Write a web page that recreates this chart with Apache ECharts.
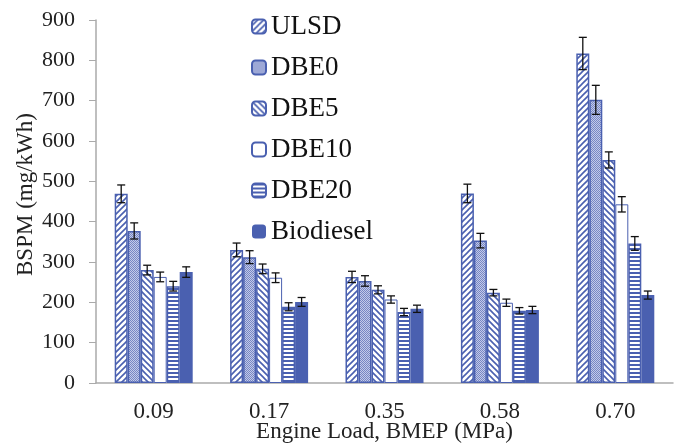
<!DOCTYPE html>
<html><head><meta charset="utf-8">
<script src="https://cdn.jsdelivr.net/npm/echarts@6/dist/echarts.min.js"></script>
<style>html,body{margin:0;padding:0;background:#fff}#c{width:678px;height:444px}</style>
</head><body><div id="c"></div>
<script>
const categories = ['0.09', '0.17', '0.35', '0.58', '0.70'];
const seriesNames = ['ULSD', 'DBE0', 'DBE5', 'DBE10', 'DBE20', 'Biodiesel'];
const ULSD      = [469, 330, 263, 470, 817];
const DBE0      = [377, 312, 253, 353, 702];
const DBE5      = [280, 283, 231, 224, 553];
const DBE10     = [263, 261, 207, 199, 443];
const DBE20     = [240, 189, 176, 179, 346];
const Biodiesel = [275, 201, 184, 181, 218];
const ULSD_err      = [22, 17, 14, 23, 40];
const DBE0_err      = [20, 16, 13, 18, 36];
const DBE5_err      = [12, 12, 10, 8, 20];
const DBE10_err     = [12, 12, 9, 9, 19];
const DBE20_err     = [12, 10, 9, 8, 17];
const Biodiesel_err = [13, 11, 9, 9, 10];
const yTicks = [0, 100, 200, 300, 400, 500, 600, 700, 800, 900];

const values = [ULSD, DBE0, DBE5, DBE10, DBE20, Biodiesel];
const errors = [ULSD_err, DBE0_err, DBE5_err, DBE10_err, DBE20_err, Biodiesel_err];

const BLUE = '#4a60b0';
const BW = 13;
const FONT = '"Liberation Serif", "Times New Roman", serif';

function makePattern(kind) {
  const c = document.createElement('canvas');
  const s = kind === 'dots' ? 2 : (kind === 'hline' ? 4 : 6);
  c.width = s; c.height = s;
  const g = c.getContext('2d');
  g.fillStyle = '#fff'; g.fillRect(0, 0, s, s);
  g.strokeStyle = BLUE; g.fillStyle = BLUE; g.lineWidth = 1.6;
  if (kind === 'fwd') {
    g.beginPath();
    g.moveTo(-1, s + 1); g.lineTo(s + 1, -1);
    g.moveTo(-1, 1); g.lineTo(1, -1);
    g.moveTo(s - 1, s + 1); g.lineTo(s + 1, s - 1);
    g.stroke();
  } else if (kind === 'back') {
    g.beginPath();
    g.moveTo(-1, -1); g.lineTo(s + 1, s + 1);
    g.moveTo(s - 1, -1); g.lineTo(s + 1, 1);
    g.moveTo(-1, s - 1); g.lineTo(1, s + 1);
    g.stroke();
  } else if (kind === 'hline') {
    g.fillRect(0, 0, s, 2);
  } else if (kind === 'dots') {
    g.fillStyle = '#c3cae9'; g.fillRect(0, 0, s, s);
    g.fillStyle = '#7787c4'; g.fillRect(0, 0, 1, 1); g.fillRect(1, 1, 1, 1);
  }
  return { image: c, repeat: 'repeat' };
}

const styles = [
  { color: makePattern('fwd'), borderColor: BLUE, borderWidth: 1.5 },
  { color: makePattern('dots'), borderColor: BLUE, borderWidth: 1.5 },
  { color: makePattern('back'), borderColor: BLUE, borderWidth: 1.5 },
  { color: '#ffffff', borderColor: BLUE, borderWidth: 1 },
  { color: makePattern('hline'), borderColor: BLUE, borderWidth: 1.5 },
  { color: BLUE, borderColor: BLUE, borderWidth: 0 }
];

const series = seriesNames.map((n, i) => ({
  name: n, type: 'bar', data: values[i], barWidth: BW, barGap: '0%',
  itemStyle: styles[i], emphasis: { disabled: true }
}));

const errData = [];
values.forEach((arr, s) => arr.forEach((v, c) => {
  errData.push([c, v + errors[s][c], v - errors[s][c], s]);
}));

series.push({
  type: 'custom', name: 'err', z: 5, silent: true,
  encode: { x: 0, y: [1, 2] },
  data: errData,
  renderItem: function (params, api) {
    const c = api.value(0), hi = api.value(1), lo = api.value(2), s = api.value(3);
    const pHi = api.coord([c, hi]), pLo = api.coord([c, lo]);
    const x = pHi[0] + (s - 2.5) * BW;
    const cap = 4;
    const st = { stroke: '#111', lineWidth: 1.3 };
    return { type: 'group', children: [
      { type: 'line', shape: { x1: x, y1: pHi[1], x2: x, y2: pLo[1] }, style: st },
      { type: 'line', shape: { x1: x - cap, y1: pHi[1], x2: x + cap, y2: pHi[1] }, style: st },
      { type: 'line', shape: { x1: x - cap, y1: pLo[1], x2: x + cap, y2: pLo[1] }, style: st }
    ]};
  }
});

const chart = echarts.init(document.getElementById('c'), null, { renderer: 'canvas' });
chart.setOption({
  animation: false,
  textStyle: { fontFamily: FONT },
  grid: { left: 96, right: 5, top: 20, bottom: 61, containLabel: false, outerBoundsMode: 'none' },
  legend: {
    data: seriesNames, orient: 'vertical', left: 246, top: 8,
    itemWidth: 14, itemHeight: 14, itemGap: 14,
    textStyle: { fontFamily: FONT, fontSize: 27, color: '#111' },
    selectedMode: false
  },
  xAxis: {
    type: 'category', data: categories,
    name: 'Engine Load, BMEP (MPa)', nameLocation: 'middle', nameGap: 37, nameMoveOverlap: false,
    nameTextStyle: { fontFamily: FONT, fontSize: 23, color: '#222', verticalAlign: 'top', lineHeight: 23 },
    axisLine: { lineStyle: { color: '#aaa', width: 1.5 } },
    axisTick: { show: false },
    axisLabel: { fontFamily: FONT, fontSize: 23, color: '#222', margin: 17 }
  },
  yAxis: {
    type: 'value', min: yTicks[0], max: yTicks[yTicks.length - 1], interval: 100,
    name: 'BSPM (mg/kWh)', nameLocation: 'middle', nameGap: 59, nameMoveOverlap: false,
    nameTextStyle: { fontFamily: FONT, fontSize: 23, color: '#222', padding: [0, 0, 0, 14] },
    axisLine: { show: true, lineStyle: { color: '#aaa', width: 1.5 } },
    axisTick: { show: true, length: 7, lineStyle: { color: '#aaa' } },
    splitLine: { show: false },
    axisLabel: { fontFamily: FONT, fontSize: 22, color: '#222', margin: 21 }
  },
  series: series
});
</script>
</body></html>
